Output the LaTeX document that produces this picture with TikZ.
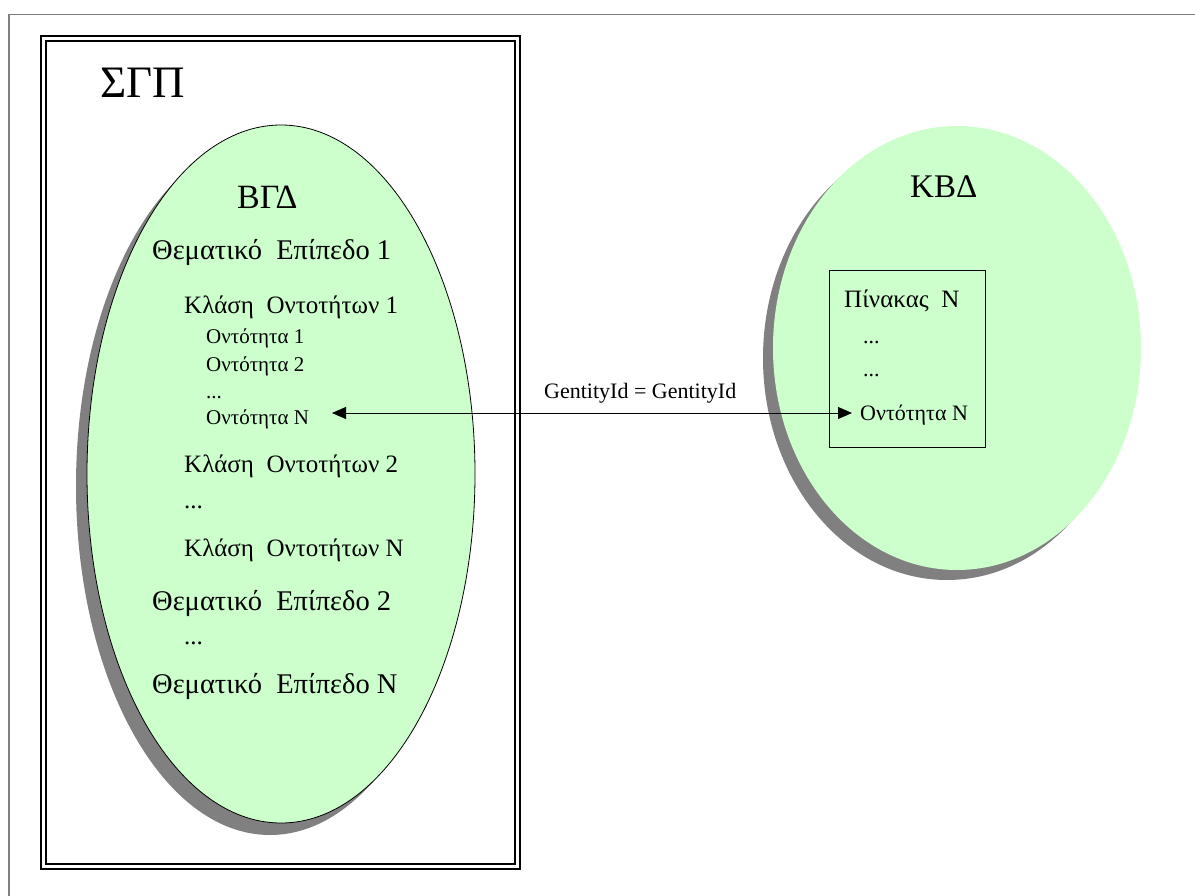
\documentclass[tikz,border=0pt]{standalone}
\usepackage{fontspec}
\setmainfont{Liberation Serif}
\usetikzlibrary{shapes.geometric,shadows,arrows.meta}
\definecolor{mint}{HTML}{CCFFCC}
\definecolor{shadowgray}{HTML}{808080}
\begin{document}
\begin{tikzpicture}[x=1pt,y=-1pt,
  blob/.style={ellipse, fill=mint, inner sep=0pt},
  lbl/.style={anchor=base west, inner sep=0pt, font=\fontsize{#1}{#1}\selectfont},
  frameline/.style={line width=1.4pt, draw=black},
  link/.style={line width=0.9pt, {Triangle[length=14pt,width=12pt]}-{Triangle[length=14pt,width=12pt]}}]
\useasboundingbox (0,0) rectangle (1195,896);
\fill[white] (0,0) rectangle (1195,896);
% outer partial frame
\draw[draw=shadowgray, line width=1.5pt] (9,896) -- (9,14.5) -- (1195,14.5);
% double frame
\draw[frameline] (41,36) rectangle (520,869);
\draw[frameline] (46,41) rectangle (515,864);
\node[lbl=45] (sgp) at (100,98) {ΣΓΠ};
% left ellipse
\node[blob, draw=black, line width=0.8pt, minimum width=388pt, minimum height=698pt,
  drop shadow={shadow xshift=-11pt, shadow yshift=-12pt, fill=shadowgray, opacity=1}] (bgdell) at (281,474) {};
\node[lbl=34] (bgd) at (237,209) {ΒΓΔ};
\node[lbl=28.5] (te1) at (152,260) {Θεματικό\ \ Επίπεδο 1};
\node[lbl=25] (ko1) at (184,313) {Κλάση\ \ Οντοτήτων 1};
\node[lbl=21] (ont1) at (206,344) {Οντότητα 1};
\node[lbl=21] (ont2) at (206,371) {Οντότητα 2};
\node[lbl=21] (dots1) at (206,398) {...};
\node[lbl=21] (ontN) at (206,424) {Οντότητα N};
\node[lbl=25] (ko2) at (184,472) {Κλάση\ \ Οντοτήτων 2};
\node[lbl=25] (dots2) at (184,508) {...};
\node[lbl=25] (koN) at (184,556) {Κλάση\ \ Οντοτήτων N};
\node[lbl=28.5] (te2) at (152,610) {Θεματικό\ \ Επίπεδο 2};
\node[lbl=25] (dots3) at (184,644) {...};
\node[lbl=28.5] (teN) at (152,693) {Θεματικό\ \ Επίπεδο N};
% right ellipse
\node[blob, minimum width=368pt, minimum height=444pt,
  drop shadow={shadow xshift=-10pt, shadow yshift=-10pt, fill=shadowgray, opacity=1}] (kbdell) at (957,348) {};
\node[lbl=33] (kbd) at (910,198) {ΚΒΔ};
\draw[line width=0.9pt] (829,270) rectangle (985,447);
\node[lbl=25] (pin) at (844,308) {Πίνακας\ \ N};
\node[lbl=22] (pd1) at (863,344) {...};
\node[lbl=22] (pd2) at (863,376) {...};
\node[lbl=22] (ontR) at (860,420) {Οντότητα N};
% connector
\coordinate (la) at (332,413);
\coordinate (ra) at (852,413);
\draw[link] (la) -- (ra);
\node[lbl=22] (gid) at (544,398) {GentityId = GentityId};
\end{tikzpicture}
\end{document}
